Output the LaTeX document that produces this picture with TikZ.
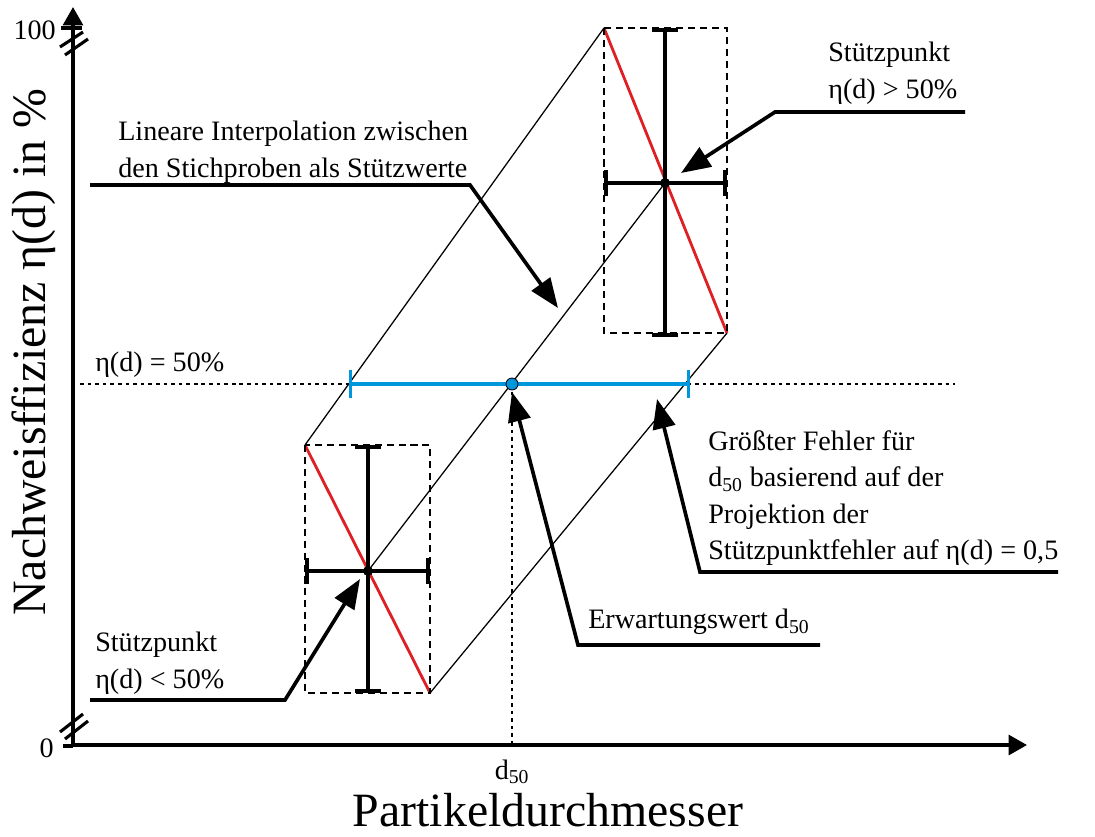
\documentclass[tikz,border=0pt]{standalone}
\usepackage{fontspec}
\setmainfont{Liberation Serif}
\usetikzlibrary{arrows.meta,positioning}

\definecolor{errred}{RGB}{222,32,36}
\definecolor{projblue}{RGB}{0,150,220}

\tikzset{
  axis/.style={line width=2.6pt, -{Triangle[length=13pt,width=14pt]}},
  leader/.style={line width=2.6pt, -{Triangle[length=21pt,width=16pt]}},
  interp/.style={line width=0.9pt},
  redline/.style={line width=2pt, draw=errred},
  errbar/.style={line width=2.6pt, {Bar[width=19pt]}-{Bar[width=19pt]}},
  errbox/.style={line width=1.1pt, dash pattern=on 5pt off 3.5pt},
  guide/.style={line width=0.9pt, dash pattern=on 2.6pt off 2.8pt},
  note/.style={font=\fontsize{20}{26}\selectfont, align=left, inner sep=0pt},
  bigtext/.style={font=\fontsize{34}{40}\selectfont, inner sep=0pt}
}

\begin{document}
\begin{tikzpicture}[x=0.025cm, y=-0.025cm]
    \useasboundingbox (0,0) rectangle (1095,836);

    % axes
    \coordinate (o) at (73,745);
    \coordinate (ytip) at (73,7);
    \coordinate (xtip) at (1027,745);
    \draw[axis] (o) -- (ytip);
    \draw[axis] (o) -- (xtip);
    \draw[line width=2.6pt] (61,28) -- (82,28);
    \draw[line width=2.6pt] (63,746) -- (73,746);
    \draw[line width=2.2pt] (60,47) -- (83,32);
    \draw[line width=2.2pt] (65,55) -- (88,39);
    \draw[line width=2.2pt] (60,732) -- (83,714);
    \draw[line width=2.2pt] (65,739) -- (88,721);
    \node[note, anchor=east] (l100) at (56,30) {100};
    \node[note, anchor=east] (l0) at (54,748) {0};

    % points
    \coordinate (lowc) at (368,571);
    \coordinate (uppc) at (665,183);
    \coordinate (dfifty) at (512,384);
    \coordinate (dfiftyx) at (512,745);

    % interpolation band
    \draw[interp] (305,445) -- (604,28);
    \draw[interp] (lowc) -- (uppc);
    \draw[interp] (430,693) -- (727,333);
    \draw[redline] (305,445) -- (430,693);
    \draw[redline] (604,28) -- (727,333);

    % error boxes
    \draw[errbox] (305,445) rectangle (430,693);
    \draw[errbox] (604,28) rectangle (727,333);
    \draw[errbar] (368,445) -- (368,693);
    \draw[errbar] (305,571) -- (430,571);
    \draw[errbar] (665,28) -- (665,337);
    \draw[errbar] (604,183) -- (727,183);
    \fill (lowc) circle (5);
    \fill (uppc) circle (5);

    % 50 % level
    \draw[guide] (80,384) -- (955,384);
    \draw[guide] (dfifty) -- (dfiftyx);
    \draw[line width=2.2pt, draw=projblue, {Bar[width=20pt]}-{Bar[width=20pt]}] (349,384) -- (690,384);
    \filldraw[fill=projblue, draw=black, line width=0.6pt] (dfifty) circle (6);
    \node[note, anchor=west] (level) at (95,365) {η(d) = 50\%};
    \node[note] (dlabel) at (512,772) {d\textsubscript{50}};

    % notes
    \node[note, anchor=west] (upper) at (828,73) {Stützpunkt\\η(d) > 50\%};
    \node[note, anchor=west] (interpnote) at (118,152) {Lineare Interpolation zwischen\\den Stichproben als Stützwerte};
    \node[note, anchor=west] (errnote) at (708,498) {Größter Fehler für\\d\textsubscript{50} basierend auf der\\Projektion der\\Stützpunktfehler auf η(d) = 0,5};
    \node[note, anchor=west] (expnote) at (588,622) {Erwartungswert d\textsubscript{50}};
    \node[note, anchor=west] (lower) at (95,663) {Stützpunkt\\η(d) < 50\%};

    % leaders
    \coordinate (upper-a) at (965,112);
    \coordinate (upper-b) at (775,112);
    \coordinate (upper-t) at (681,173);
    \draw[leader] (upper-a) -- (upper-b) -- (upper-t);
    \coordinate (interp-a) at (90,185);
    \coordinate (interp-b) at (470,185);
    \coordinate (interp-t) at (558,308);
    \draw[leader] (interp-a) -- (interp-b) -- (interp-t);
    \coordinate (err-a) at (1058,572);
    \coordinate (err-b) at (700,572);
    \coordinate (err-t) at (657,399);
    \draw[leader] (err-a) -- (err-b) -- (err-t);
    \coordinate (exp-a) at (820,645);
    \coordinate (exp-b) at (578,645);
    \coordinate (exp-t) at (512,392);
    \draw[leader] (exp-a) -- (exp-b) -- (exp-t);
    \coordinate (lower-a) at (90,700);
    \coordinate (lower-b) at (285,700);
    \coordinate (lower-t) at (360,579);
    \draw[leader] (lower-a) -- (lower-b) -- (lower-t);

    % axis labels
    \node[bigtext, anchor=base] (xlabel) at (548,826) {Partikeldurchmesser};
    \node[bigtext, rotate=90] (ylabel) at (34,352) {Nachweisffizienz η(d) in \%};
\end{tikzpicture}
\end{document}
